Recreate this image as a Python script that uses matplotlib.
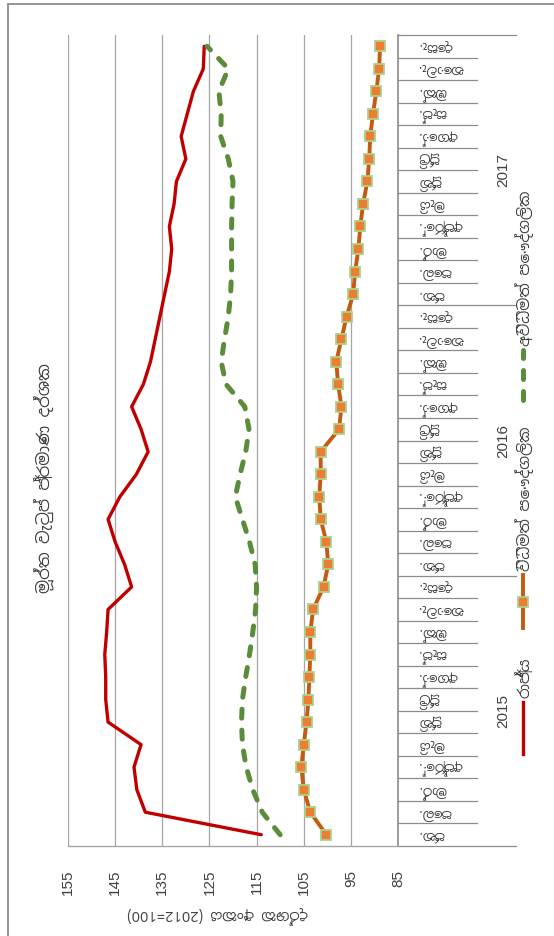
import matplotlib
matplotlib.use("Agg")
import matplotlib.pyplot as plt
from matplotlib import font_manager as fm
from matplotlib.ft2font import FT2Font
from matplotlib.transforms import blended_transform_factory
from matplotlib.patches import Rectangle
from matplotlib.lines import Line2D

# ---- data -------------------------------------------------------------
title = "මූර්ත වැටුප් ප්‍රමාණ දර්ශක"
value_label = "දර්ශක අංකය (2012=100)"
years = ["2015", "2016", "2017"]
months = ["ජන.", "පෙබ.", "මාර්.", "අප්‍රේ.", "මැයි", "ජූනි",
          "ජූලි", "අගෝ.", "සැප්.", "ඔක්.", "නොවැ.", "දෙසැ."]
series_names = ["රාජ්‍ය", "විධිමත් පෞද්ගලික", "අවිධිමත් පෞද්ගලික"]
value_ticks = [155, 145, 135, 125, 115, 105, 95, 85]

state = [114.0, 138.6, 140.4, 141.0, 139.5, 146.5, 147.0, 147.0, 147.2, 146.8,
         146.5, 141.5, 143.0, 145.0, 146.5, 144.0, 140.5, 138.0, 139.5, 141.5,
         139.0, 137.5, 136.5, 135.5, 134.5, 133.5, 133.0, 133.5, 132.5, 132.0,
         130.0, 131.0, 129.7, 128.4, 126.3, 126.1]
formal = [100.2, 103.6, 105.0, 105.5, 105.0, 104.4, 104.0, 103.8, 103.6, 103.6,
          103.0, 100.8, 99.8, 100.2, 101.4, 101.7, 101.4, 101.4, 97.5, 97.0,
          97.7, 98.1, 97.0, 95.9, 94.5, 94.1, 93.4, 93.0, 92.4, 91.5,
          91.1, 90.9, 90.3, 89.6, 89.0, 88.8]
informal = [110.0, 113.8, 115.8, 117.2, 118.0, 118.2, 118.0, 117.3, 116.5, 115.8,
            115.2, 115.0, 115.3, 116.5, 118.0, 119.5, 118.5, 117.3, 116.6, 117.5,
            121.5, 122.5, 121.8, 121.0, 120.5, 120.3, 120.3, 120.3, 120.2, 120.0,
            121.0, 122.6, 122.5, 123.0, 121.0, 125.5]


# ---- fonts ------------------------------------------------------------
def family_covering(ch):
    entries = sorted(fm.fontManager.ttflist,
                     key=lambda e: ("Sinhala" not in e.name, e.name))
    seen = set()
    for e in entries:
        if e.fname in seen:
            continue
        seen.add(e.fname)
        try:
            if ord(ch) in FT2Font(e.fname).get_charmap():
                return e.name
        except Exception:
            continue
    return None


sin_family = family_covering("ජ")
names = {e.name for e in fm.fontManager.ttflist}
num_family = "Liberation Sans Narrow" if "Liberation Sans Narrow" in names else "Liberation Sans"
text_fam = ([sin_family] if sin_family else []) + ["DejaVu Sans"]
num_fam = [num_family, "DejaVu Sans"]
plt.rcParams["font.family"] = text_fam

# ---- colours ----------------------------------------------------------
RED = "#C00000"
GREEN = "#5B8C3A"
ORANGE = "#C55A11"
MK_FACE = "#ED7D31"
MK_EDGE = "#A9D18E"
GRID = "#A6A6A6"
AXIS = "#8C8C8C"
TXT = "#404040"
DASH = (0, (1.8, 2.4))

# ---- figure (drawn turned a quarter turn) ------------------------------
W, H = 554, 936
fig = plt.figure(figsize=(W / 100, H / 100), dpi=100)
fig.patch.set_facecolor("white")


def fx(x):
    return x / W


def fy(y):
    return 1 - y / H


L, R, T, B = 68, 398, 35, 846
ax = fig.add_axes([fx(L), fy(B), fx(R) - fx(L), fy(T) - fy(B)])
idx = list(range(len(state)))

ax.set_xlim(155, 85)
ax.set_ylim(-0.5, len(idx) - 0.5)
ax.set_xticks(value_ticks)
ax.set_xticklabels([str(v) for v in value_ticks], rotation=90,
                   fontfamily=num_fam, fontsize=11, color=TXT)
ax.tick_params(axis="x", length=0, pad=17)
ax.set_yticks([])
ax.grid(axis="x", color=GRID, lw=0.9)
ax.set_axisbelow(True)
for s in ("left", "top"):
    ax.spines[s].set_visible(False)
ax.spines["bottom"].set_color(GRID)
ax.spines["bottom"].set_linewidth(1.0)
ax.spines["right"].set_color(AXIS)
ax.spines["right"].set_linewidth(1.2)

ax.plot(state, idx, color=RED, lw=2.4, solid_capstyle="round",
        solid_joinstyle="round", zorder=3)
ax.plot(informal, idx, color=GREEN, lw=3.6, linestyle=DASH,
        dash_capstyle="round", zorder=3)
ax.plot(formal, idx, color=ORANGE, lw=2.8, marker="s", markersize=7,
        markerfacecolor=MK_FACE, markeredgecolor=MK_EDGE, markeredgewidth=1.3,
        zorder=4)

# month / year category labels on the right-hand axis
trans = blended_transform_factory(fig.transFigure, ax.transData)
n = len(idx)
for i in range(n + 1):
    b = i - 0.5
    x_end = 516 if i % 12 == 0 else 477
    ax.plot([fx(R), fx(x_end)], [b, b], transform=trans, color=AXIS,
            lw=0.9, clip_on=False)
for i in idx:
    ax.text(fx(418), i, months[i % 12], transform=trans, rotation=180,
            ha="left", va="center", fontsize=9.5, color=TXT)
for k, yr in enumerate(years):
    ax.text(fx(503), 12 * k + 5.5, yr, transform=trans, rotation=90,
            ha="center", va="center", fontsize=11, color=TXT,
            fontfamily=num_fam)

# legend, stacked bottom-to-top
legend_items = [
    (series_names[0], dict(color=RED, lw=2.4), None, 754, 702),
    (series_names[1], dict(color=ORANGE, lw=2.8), True, 628, 575),
    (series_names[2], dict(color=GREEN, lw=3.6, linestyle=DASH,
                           dash_capstyle="round"), None, 400, 350),
]
for name, style, marker, y0, y1 in legend_items:
    fig.add_artist(Line2D([fx(523), fx(523)], [fy(y0), fy(y1)],
                          transform=fig.transFigure, **style))
    if marker:
        fig.add_artist(Line2D([fx(523)], [fy((y0 + y1) / 2)],
                              transform=fig.transFigure, marker="s",
                              markersize=7, markerfacecolor=MK_FACE,
                              markeredgecolor=MK_EDGE, markeredgewidth=1.3,
                              linestyle="none"))
    fig.text(fx(525), fy(y1 - 4), name, rotation=90, ha="center",
             va="bottom", fontsize=11, color=TXT)

# title and value-axis caption
fig.text(fx(44), fy(478), title, rotation=90, ha="center", va="center",
         fontsize=12, color=TXT)
fig.text(fx(218), fy(915), value_label, rotation=180, ha="center",
         va="center", fontsize=10.5, color=TXT)

# chart-area frame
fig.add_artist(Rectangle((fx(8), fy(960)), fx(620) - fx(8), fy(4) - fy(960),
                         transform=fig.transFigure, fill=False,
                         edgecolor=AXIS, lw=1.3))

fig.savefig("out.png", dpi=100)
